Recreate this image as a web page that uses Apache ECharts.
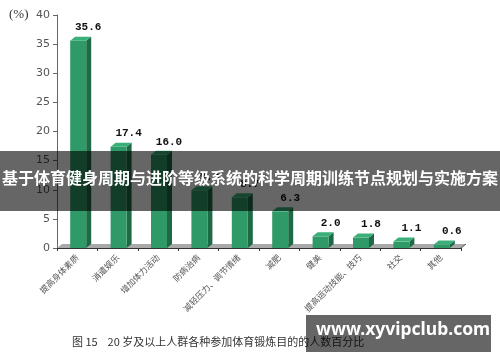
<!DOCTYPE html>
<html>
<head>
<meta charset="utf-8">
<script src="https://cdn.jsdelivr.net/npm/echarts@6/dist/echarts.min.js"></script>
<style>html,body{margin:0;padding:0;background:#fff;}#c{width:500px;height:362px;}</style>
</head>
<body>
<div id="c"></div>
<script>
const categories = ['提高身体素质','消遣娱乐','增加体力活动','防病治病','减轻压力、调节情绪','减肥','健美','提高运动技能、技巧','社交','其他'];
const values = [35.6, 17.4, 16.0, 9.9, 8.7, 6.3, 2.0, 1.8, 1.1, 0.6];
const yTicks = [0, 5, 10, 15, 20, 25, 30, 35, 40];
const titleText = '基于体育健身周期与进阶等级系统的科学周期训练节点规划与实施方案';
const captionText = '图 15    20 岁及以上人群各种参加体育锻炼目的的人数百分比';
const watermarkText = 'www.xyvipclub.com';
const unitText = '(%)';

const chart = echarts.init(document.getElementById('c'), null, {renderer: 'canvas'});
const DX = 5, DY = 4;

function barItem(params, api) {
  const c = api.coord([api.value(0), api.value(1)]);
  const b = api.coord([api.value(0), 0]);
  const l = c[0] - 7, r = c[0] + 9, t = c[1], bt = b[1];
  return {
    type: 'group',
    children: [
      {type: 'polygon', shape: {points: [[r, t], [r + DX, t - DY], [r + DX, bt - DY], [r, bt]]}, style: {fill: '#1d6a45'}},
      {type: 'rect', shape: {x: l, y: t, width: r - l, height: bt - t}, style: {fill: '#2f9a68'}},
      {type: 'polygon', shape: {points: [[l, t], [l + DX, t - DY], [r + DX, t - DY], [r, t]]}, style: {fill: '#3aaf78'}},
      {type: 'text', x: c[0] + 11, y: t - 13, style: {text: api.value(1).toFixed(1), fill: '#111', font: 'bold 11px "Liberation Mono", monospace', align: 'center', verticalAlign: 'middle'}}
    ]
  };
}

function floorItem(params, api) {
  const cs = params.coordSys;
  const x0 = cs.x, x1 = cs.x + cs.width, yb = cs.y + cs.height;
  return {
    type: 'group',
    children: [
      {type: 'polygon', shape: {points: [[x0, yb], [x0 + DX, yb - DY], [x1 + DX, yb - DY], [x1, yb]]}, style: {fill: '#a9a9a9'}},
      {type: 'polyline', shape: {points: [[x1, yb], [x1 + DX, yb - DY]]}, style: {stroke: '#555', lineWidth: 1}}
    ]
  };
}

chart.setOption({
  backgroundColor: '#fff',
  animation: false,
  grid: {left: 57, right: 39, top: 15, bottom: 114},
  xAxis: {
    type: 'category',
    data: categories,
    axisLine: {lineStyle: {color: '#333', width: 1}},
    axisTick: {show: true, length: 3, lineStyle: {color: '#333'}},
    axisLabel: {rotate: 45, fontSize: 8.5, color: '#555', margin: 8, fontFamily: '"Noto Sans CJK SC", sans-serif', interval: 0}
  },
  yAxis: {
    type: 'value',
    min: 0, max: 40, interval: 5,
    splitLine: {show: false},
    axisLine: {show: true, lineStyle: {color: '#666'}},
    axisTick: {show: true, length: 4, lineStyle: {color: '#666'}},
    axisLabel: {fontSize: 11, color: '#555', margin: 7, fontFamily: '"DejaVu Sans", sans-serif',
      formatter: v => yTicks.indexOf(v) >= 0 ? String(v) : ''}
  },
  series: [
    {type: 'custom', renderItem: floorItem, data: [[0, 0]], silent: true, z: 1},
    {type: 'custom', renderItem: barItem, data: values.map((v, i) => [i, v]), encode: {x: 0, y: 1}, z: 2}
  ],
  graphic: [
    {type: 'text', left: 9, top: 8, style: {text: unitText, fill: '#333', font: '13px "Liberation Serif", serif'}},
    {type: 'text', left: 72, top: 336, style: {text: captionText, fill: '#333', font: '11px "Noto Sans CJK SC", sans-serif'}},
    {type: 'rect', left: 0, top: 151, z: 100, shape: {width: 500, height: 60}, style: {fill: 'rgba(0,0,0,0.6)'}},
    {type: 'text', left: 'center', top: 170, z: 101, style: {text: titleText, fill: '#fff', font: 'bold 16px "Noto Sans CJK SC", sans-serif'}},
    {type: 'rect', left: 306, top: 315, z: 100, shape: {width: 185, height: 37}, style: {fill: 'rgba(0,0,0,0.6)'}},
    {type: 'text', left: 316, top: 321, z: 101, style: {text: watermarkText, fill: '#fff', font: 'bold 17.5px "Noto Sans", sans-serif'}}
  ]
});
</script>
</body>
</html>
